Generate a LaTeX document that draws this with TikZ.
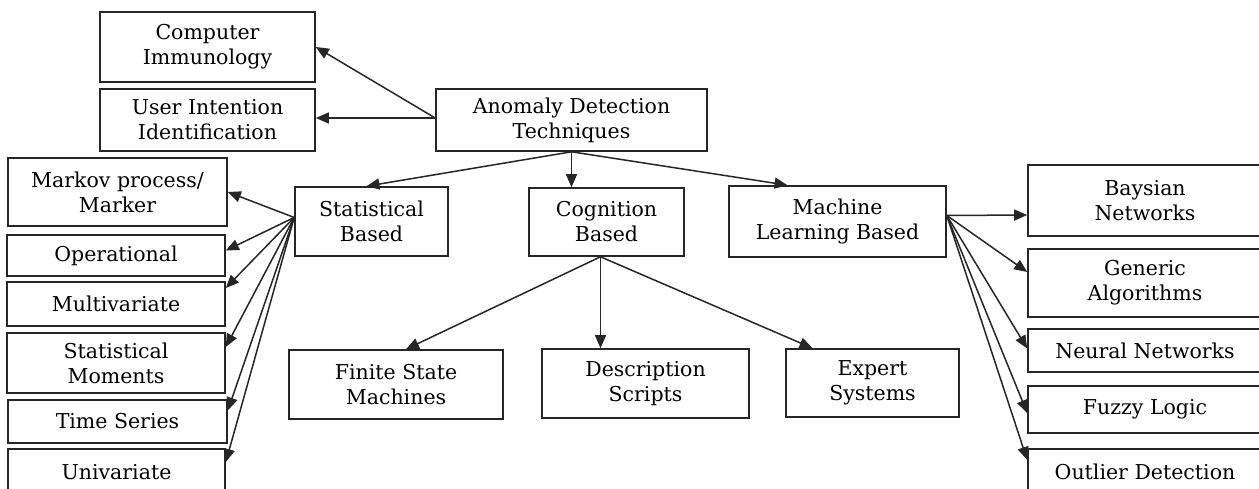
\documentclass[tikz,border=0pt]{standalone}
\usepackage{fontspec}
\setmainfont{DejaVu Serif}
\usepackage{tikz}
\usetikzlibrary{arrows.meta,positioning,calc}

\begin{document}
\begin{tikzpicture}[
  x=1pt, y=-1pt,
  box/.style={rectangle, draw=black!85, line width=1.6pt, fill=white,
              align=center, inner sep=2pt,
              font=\fontsize{20.5}{25}\selectfont},
  arrow/.style={-{Triangle[length=13pt,width=11pt]}, line width=1.5pt, black!85}
]
\clip (0,0) rectangle (1259,489);
\fill[white] (0,0) rectangle (1259,489);

% top of the tree
\node[box, minimum width=271pt, minimum height=62pt] (anom) at (571.5,120) {Anomaly Detection\\Techniques};
\node[box, minimum width=215pt, minimum height=70pt] (comp) at (207.5,47) {Computer\\Immunology};
\node[box, minimum width=215pt, minimum height=62pt] (user) at (207.5,120) {User Intention\\Identification};

% three families
\node[box, minimum width=153pt, minimum height=69pt] (stat) at (371.5,221.5) {Statistical\\Based};
\node[box, minimum width=155pt, minimum height=68pt] (cog) at (606.5,222) {Cognition\\Based};
\node[box, minimum width=217pt, minimum height=71pt] (ml) at (837.5,221.5) {Machine\\Learning Based};

% statistical methods on the left
\node[box, minimum width=219pt, minimum height=68pt] (markov) at (117.5,192) {Markov process/\\Marker};
\node[box, minimum width=218pt, minimum height=41pt] (oper) at (116,255.5) {Operational};
\node[box, minimum width=218pt, minimum height=44pt] (multi) at (116,304) {Multivariate};
\node[box, minimum width=218pt, minimum height=60pt] (moments) at (116,363) {Statistical\\Moments};
\node[box, minimum width=219pt, minimum height=43pt] (tseries) at (117.5,421.5) {Time Series};
\node[box, minimum width=217pt, minimum height=46pt] (univ) at (116.5,472) {Univariate};

% cognition methods below
\node[box, minimum width=214pt, minimum height=69pt] (fsm) at (396,384.5) {Finite State\\Machines};
\node[box, minimum width=207pt, minimum height=69pt] (desc) at (645.5,383.5) {Description\\Scripts};
\node[box, minimum width=173pt, minimum height=68pt] (expert) at (872.5,383) {Expert\\Systems};

% machine learning methods on the right
\node[box, minimum width=234pt, minimum height=71pt] (bays) at (1145,200.5) {Baysian\\Networks};
\node[box, minimum width=234pt, minimum height=68pt] (gen) at (1145,283) {Generic\\Algorithms};
\node[box, minimum width=234pt, minimum height=43pt] (neur) at (1145,350.5) {Neural Networks};
\node[box, minimum width=234pt, minimum height=47pt] (fuzzy) at (1145,409.5) {Fuzzy Logic};
\node[box, minimum width=234pt, minimum height=46pt] (outl) at (1145,472) {Outlier Detection};

\coordinate (statout) at ([yshift=4pt]stat.west);
\coordinate (cogout) at ([xshift=-6pt]cog.south);
\coordinate (mlout) at ([yshift=6pt]ml.east);

\draw[arrow] ([yshift=2pt]anom.west) -- (comp.east);
\draw[arrow] ([yshift=2pt]anom.west) -- ([yshift=2pt]user.east);
\draw[arrow] (anom.south) -- ([xshift=-5pt]stat.north);
\draw[arrow] (anom.south) -- (anom.south |- cog.north);
\draw[arrow] (anom.south) -- ([xshift=-50pt]ml.north);

% fan out of the statistical box
\draw[arrow] (statout) -- (markov.east);
\draw[arrow] (statout) -- ([yshift=5pt]oper.east);
\draw[arrow] (statout) -- ([yshift=16pt]multi.east);
\draw[arrow] (statout) -- ([yshift=16pt]moments.east);
\draw[arrow] (statout) -- ([yshift=11pt]tseries.east);
\draw[arrow] (statout) -- ([yshift=10pt]univ.east);

\draw[arrow] (cogout) -- ([xshift=10pt]fsm.north);
\draw[arrow] (cogout) -- (cogout |- desc.north);
\draw[arrow] (cogout) -- ([xshift=-60pt]expert.north);

% fan out of the machine learning box
\draw[arrow] (mlout) -- ([yshift=-14.5pt]bays.west);
\draw[arrow] (mlout) -- ([yshift=11pt]gen.west);
\draw[arrow] (mlout) -- ([yshift=2pt]neur.west);
\draw[arrow] (mlout) -- ([yshift=-3.5pt]fuzzy.west);
\draw[arrow] (mlout) -- ([yshift=12pt]outl.west);

\end{tikzpicture}
\end{document}
